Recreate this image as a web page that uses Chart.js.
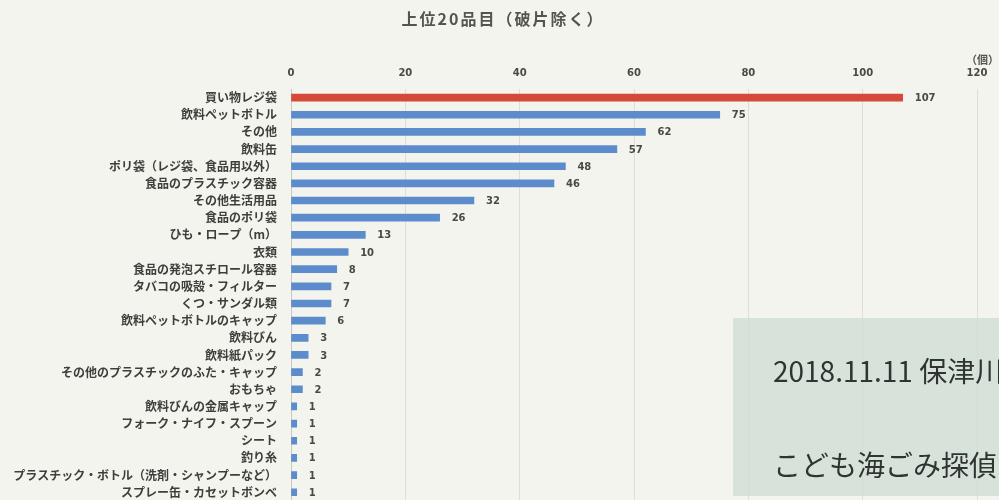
<!DOCTYPE html>
<html>
<head>
<meta charset="utf-8">
<script src="https://cdn.jsdelivr.net/npm/chart.js@4/dist/chart.umd.min.js"></script>
<style>
    html, body { margin: 0; padding: 0; background: #f4f4ef; overflow: hidden; }
    #wrap { width: 999px; height: 514px; position: relative; }
</style>
</head>
<body>
<div id="wrap"><canvas id="chart1"></canvas></div>
<script>
// data
let categories = [
    "買い物レジ袋", "飲料ペットボトル", "その他", "飲料缶", "ポリ袋（レジ袋、食品用以外）",
    "食品のプラスチック容器", "その他生活用品", "食品のポリ袋", "ひも・ロープ（m）", "衣類",
    "食品の発泡スチロール容器", "タバコの吸殻・フィルター", "くつ・サンダル類", "飲料ペットボトルのキャップ",
    "飲料びん", "飲料紙パック", "その他のプラスチックのふた・キャップ", "おもちゃ",
    "飲料びんの金属キャップ", "フォーク・ナイフ・スプーン", "シート", "釣り糸",
    "プラスチック・ボトル（洗剤・シャンプーなど）", "スプレー缶・カセットボンベ"
]
let counts = [107, 75, 62, 57, 48, 46, 32, 26, 13, 10, 8, 7, 7, 6, 3, 3, 2, 2, 1, 1, 1, 1, 1, 1]
let xTicks = [0, 20, 40, 60, 80, 100, 120]

let titleText = "上位20品目（破片除く）"
let unitText = "（個）"
let noteLines = ["2018.11.11 保津川", "こども海ごみ探偵団"]

// top item in red, the rest blue
let barColors = counts.map(function(v, i) {
    return i == 0 ? "rgb(214, 72, 58)" : "rgb(92, 140, 204)"
})

let extras = {
    id: "extras",
    afterDatasetsDraw: function(chart) {
        let ctx = chart.ctx
        let meta = chart.getDatasetMeta(0)
        ctx.save()
        ctx.fillStyle = "#4a4a44"
        ctx.font = "bold 10px 'DejaVu Sans'"
        ctx.textBaseline = "middle"
        ctx.textAlign = "left"
        meta.data.forEach(function(bar, i) {
            ctx.fillText(String(counts[i]), bar.x + 12, bar.y + 1)
        })
        ctx.restore()
    },
    afterDraw: function(chart) {
        let ctx = chart.ctx
        ctx.save()
        // title
        ctx.fillStyle = "#55554f"
        ctx.font = "bold 16px 'Noto Sans CJK JP'"
        ctx.letterSpacing = "2px"
        ctx.textAlign = "center"
        ctx.textBaseline = "middle"
        ctx.fillText(titleText, 503, 19)
        ctx.letterSpacing = "0px"
        // unit
        ctx.font = "bold 11px 'Noto Sans CJK JP'"
        ctx.textAlign = "right"
        ctx.fillText(unitText, 999, 60)
        // pasted note box
        ctx.fillStyle = "rgba(205, 220, 212, 0.75)"
        ctx.fillRect(733, 318, 266, 178)
        ctx.fillStyle = "#2f3431"
        ctx.font = "28px 'Noto Sans CJK JP'"
        ctx.textAlign = "left"
        ctx.fillText(noteLines[0], 773, 371)
        ctx.fillText(noteLines[1], 773, 465)
        ctx.restore()
    }
}

let ctx1 = document.getElementById("chart1").getContext("2d")
let chart1 = new Chart(ctx1, {
    type: "bar",
    data: {
        labels: categories,
        datasets: [{
            data: counts,
            backgroundColor: barColors,
            barThickness: 7
        }]
    },
    options: {
        indexAxis: "y",
        responsive: true,
        maintainAspectRatio: false,
        animation: false,
        layout: { padding: { top: 61, left: 0, right: 22, bottom: 0 } },
        plugins: {
            legend: { display: false },
            tooltip: { enabled: false }
        },
        scales: {
            x: {
                position: "top",
                min: 0,
                max: 120,
                afterBuildTicks: function(scale) {
                    scale.ticks = xTicks.map(function(v) { return { value: v } })
                },
                afterFit: function(scale) { scale.height = 28 },
                border: { display: false },
                grid: { color: "rgba(200, 200, 192, 0.5)", drawTicks: false },
                ticks: {
                    color: "#4a4a44",
                    padding: 10,
                    font: { family: "DejaVu Sans", size: 10, weight: "bold" }
                }
            },
            y: {
                afterFit: function(scale) { scale.width = 291 },
                border: { display: true, color: "#c8c8c0" },
                grid: { display: false },
                ticks: {
                    color: "#3e3e3a",
                    padding: 6,
                    autoSkip: false,
                    font: { family: "Noto Sans CJK JP", size: 12, weight: "bold" }
                }
            }
        }
    },
    plugins: [extras]
})
</script>
</body>
</html>
